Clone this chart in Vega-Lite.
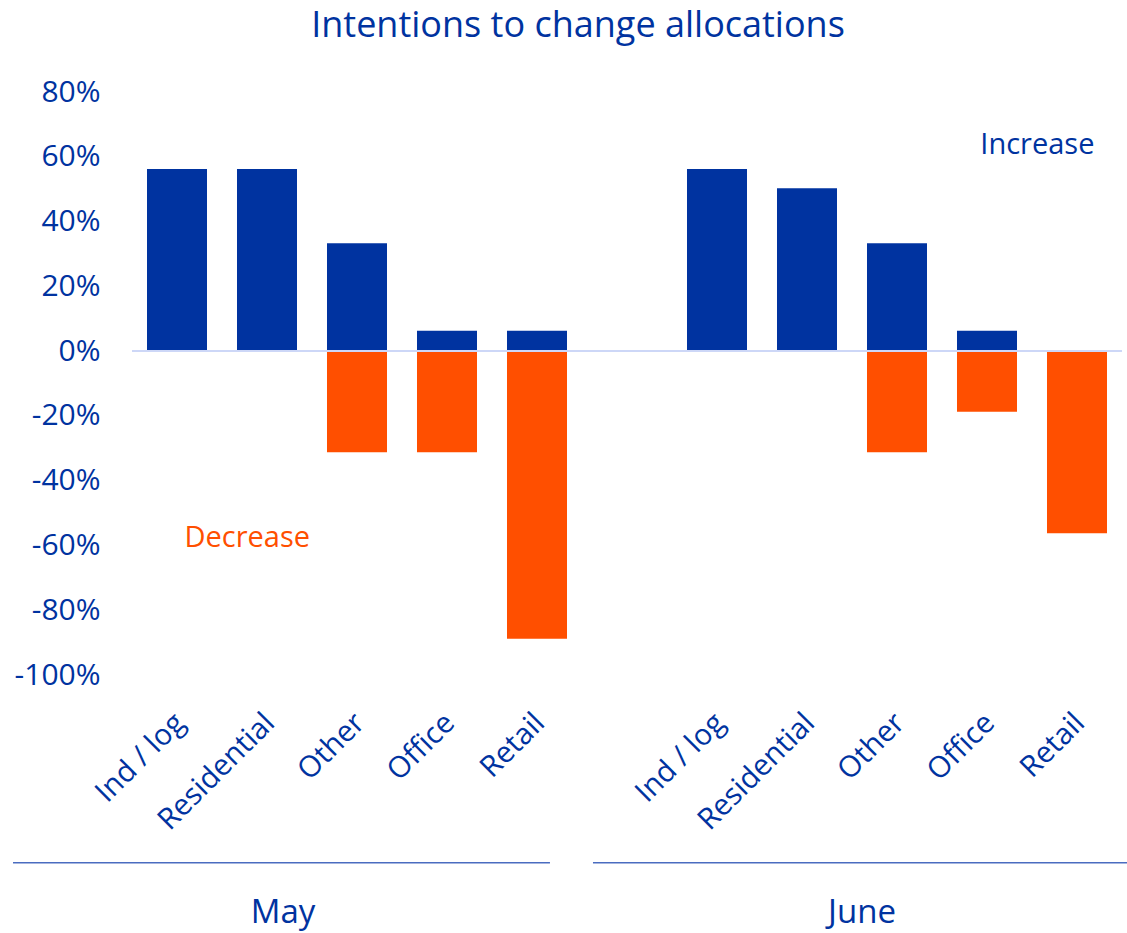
{
  "$schema": "https://vega.github.io/schema/vega-lite/v6.json",
  "autosize": "none",
  "padding": {"left": 132, "top": 92, "right": 5, "bottom": 258},
  "width": 990,
  "height": 583,
  "background": "white",
  "config": {"view": {"stroke": null}, "font": "Open Sans"},
  "title": {"text": "Intentions to change allocations", "fontSize": 36, "fontWeight": "normal", "color": "#0033A0", "font": "Open Sans", "anchor": "middle", "frame": "group", "dx": -49, "offset": 32},
  "datasets": {
    "bars": [
      {"key": "May|Ind / log", "month": "May", "category": "Ind / log", "direction": "Increase", "value": 56.25},
      {"key": "May|Residential", "month": "May", "category": "Residential", "direction": "Increase", "value": 56.25},
      {"key": "May|Other", "month": "May", "category": "Other", "direction": "Increase", "value": 33.3},
      {"key": "May|Other", "month": "May", "category": "Other", "direction": "Decrease", "value": -31.25},
      {"key": "May|Office", "month": "May", "category": "Office", "direction": "Increase", "value": 6.25},
      {"key": "May|Office", "month": "May", "category": "Office", "direction": "Decrease", "value": -31.25},
      {"key": "May|Retail", "month": "May", "category": "Retail", "direction": "Increase", "value": 6.25},
      {"key": "May|Retail", "month": "May", "category": "Retail", "direction": "Decrease", "value": -88.8},
      {"key": "June|Ind / log", "month": "June", "category": "Ind / log", "direction": "Increase", "value": 56.25},
      {"key": "June|Residential", "month": "June", "category": "Residential", "direction": "Increase", "value": 50.3},
      {"key": "June|Other", "month": "June", "category": "Other", "direction": "Increase", "value": 33.3},
      {"key": "June|Other", "month": "June", "category": "Other", "direction": "Decrease", "value": -31.25},
      {"key": "June|Office", "month": "June", "category": "Office", "direction": "Increase", "value": 6.25},
      {"key": "June|Office", "month": "June", "category": "Office", "direction": "Decrease", "value": -18.75},
      {"key": "June|Retail", "month": "June", "category": "Retail", "direction": "Decrease", "value": -56.25}
    ],
    "notes": [
      {"label": "Increase", "direction": "Increase", "slot": 10.06, "value": 63.6},
      {"label": "Decrease", "direction": "Decrease", "slot": 1.28, "value": -57.7}
    ],
    "groups": [
      {"month": "May", "start": -1.322, "end": 4.644, "center": 1.678, "lineY": -158, "labelY": -173.5},
      {"month": "June", "start": 5.122, "end": 11.056, "center": 8.111, "lineY": -158, "labelY": -173.5}
    ]
  },
  "layer": [
    {
      "data": {"name": "bars"},
      "mark": {"type": "bar"},
      "encoding": {
        "x": {
          "field": "key", "type": "nominal", "sort": null,
          "scale": {"domain": ["May|Ind / log", "May|Residential", "May|Other", "May|Office", "May|Retail", "gap", "June|Ind / log", "June|Residential", "June|Other", "June|Office", "June|Retail"], "paddingInner": 0.3333, "paddingOuter": 0.16667},
          "axis": {"title": null, "labelExpr": "datum.value == 'gap' ? '' : split(datum.value, '|')[1]", "labelAngle": -45, "labelFontSize": 29.5, "labelColor": "#0033A0", "labelFont": "Open Sans", "ticks": false, "domain": false, "labelPadding": 33, "labelOffset": -7}
        },
        "y": {
          "field": "value", "type": "quantitative", "title": null,
          "scale": {"domain": [-100, 80], "nice": false, "zero": false},
          "axis": {"title": null, "values": [-100, -80, -60, -40, -20, 0, 20, 40, 60, 80], "labelExpr": "datum.value + '%'", "labelFontSize": 30, "labelColor": "#0033A0", "labelFont": "Open Sans", "ticks": false, "domain": false, "grid": false, "labelPadding": 32}
        },
        "color": {"field": "direction", "type": "nominal", "scale": {"domain": ["Increase", "Decrease"], "range": ["#0033A0", "#FF4F00"]}, "legend": null}
      }
    },
    {
      "data": {"values": [{"zero": 0}]},
      "mark": {"type": "rule", "color": "#CDD7F7", "strokeWidth": 2},
      "encoding": {"y": {"field": "zero", "type": "quantitative", "title": null, "scale": {"domain": [-100, 80], "nice": false, "zero": false}}}
    },
    {
      "data": {"name": "notes"},
      "mark": {"type": "text", "fontSize": 29, "font": "Open Sans", "align": "center", "baseline": "middle"},
      "encoding": {
        "x": {"field": "slot", "type": "quantitative", "scale": {"domain": [0, 11], "nice": false, "zero": false}, "axis": null},
        "y": {"field": "value", "type": "quantitative", "title": null, "scale": {"domain": [-100, 80], "nice": false, "zero": false}},
        "text": {"field": "label"},
        "color": {"field": "direction", "type": "nominal", "scale": {"domain": ["Increase", "Decrease"], "range": ["#0033A0", "#FF4F00"]}, "legend": null}
      }
    },
    {
      "data": {"name": "groups"},
      "mark": {"type": "rule", "color": "#4A6CC0", "strokeWidth": 1.5},
      "encoding": {
        "x": {"field": "start", "type": "quantitative", "scale": {"domain": [0, 11], "nice": false, "zero": false}, "axis": null},
        "x2": {"field": "end"},
        "y": {"field": "lineY", "type": "quantitative", "title": null, "scale": {"domain": [-100, 80], "nice": false, "zero": false}}
      }
    },
    {
      "data": {"name": "groups"},
      "mark": {"type": "text", "fontSize": 33, "font": "Open Sans", "align": "center", "baseline": "middle", "color": "#0033A0"},
      "encoding": {
        "x": {"field": "center", "type": "quantitative", "scale": {"domain": [0, 11], "nice": false, "zero": false}, "axis": null},
        "y": {"field": "labelY", "type": "quantitative", "title": null, "scale": {"domain": [-100, 80], "nice": false, "zero": false}},
        "text": {"field": "month"}
      }
    }
  ],
  "resolve": {"scale": {"x": "independent", "color": "shared"}}
}
